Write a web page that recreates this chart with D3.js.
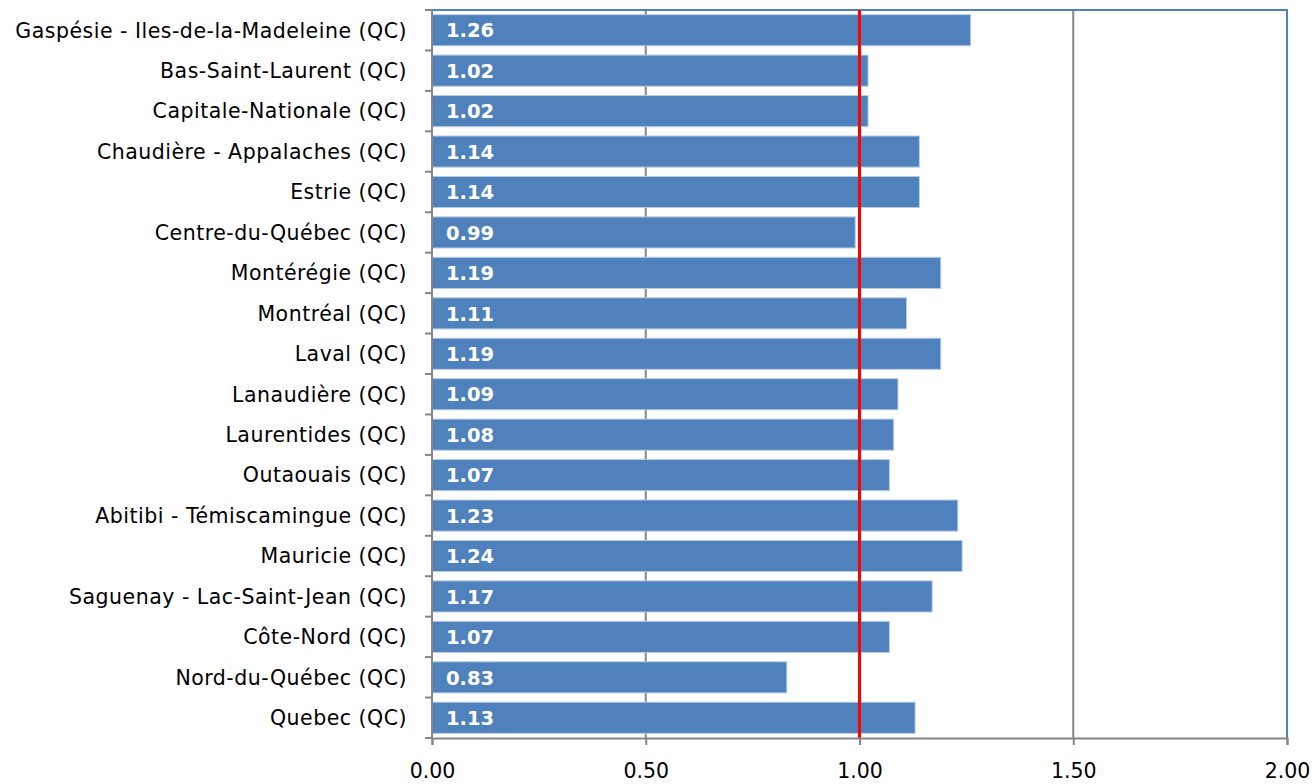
<!DOCTYPE html>
<html>
<head>
<meta charset="utf-8">
<script src="https://cdn.jsdelivr.net/npm/d3@7"></script>
<style>
  body { margin: 0; background: #fff; }
  svg { display: block; }
  text { font-family: "DejaVu Sans", "Liberation Sans", sans-serif; }
</style>
</head>
<body>
<svg id="chart" width="1315" height="784"></svg>
<script>
// Regions, top to bottom
const regions = [
  "Gaspésie - Iles-de-la-Madeleine (QC)",
  "Bas-Saint-Laurent (QC)",
  "Capitale-Nationale (QC)",
  "Chaudière - Appalaches (QC)",
  "Estrie (QC)",
  "Centre-du-Québec (QC)",
  "Montérégie (QC)",
  "Montréal (QC)",
  "Laval (QC)",
  "Lanaudière (QC)",
  "Laurentides (QC)",
  "Outaouais (QC)",
  "Abitibi - Témiscamingue (QC)",
  "Mauricie (QC)",
  "Saguenay - Lac-Saint-Jean (QC)",
  "Côte-Nord (QC)",
  "Nord-du-Québec (QC)",
  "Quebec (QC)"
];
const ratios = [1.26, 1.02, 1.02, 1.14, 1.14, 0.99, 1.19, 1.11, 1.19, 1.09,
                1.08, 1.07, 1.23, 1.24, 1.17, 1.07, 0.83, 1.13];
const xTicks = [0, 0.5, 1, 1.5, 2];
const referenceValue = 1.0;

const svg = d3.select("#chart");
const plotLeft = 432, plotRight = 1287, plotTop = 10, plotBottom = 738;

const x = d3.scaleLinear().domain([0, 2]).range([plotLeft, plotRight]);
const y = d3.scaleBand().domain(regions).range([plotTop, plotBottom]).paddingInner(0.23).paddingOuter(0.115);
const yEdges = d3.scaleBand().domain(regions).range([plotTop, plotBottom]).padding(0);

// vertical gridlines
svg.append("g").selectAll("line").data(xTicks.slice(1, -1)).join("line")
  .attr("x1", d => x(d)).attr("x2", d => x(d))
  .attr("y1", plotTop).attr("y2", plotBottom)
  .attr("stroke", "#868686").attr("stroke-width", 2);

// bars
svg.append("g").selectAll("rect").data(regions).join("rect")
  .attr("x", x(0))
  .attr("y", d => y(d))
  .attr("width", (d, i) => x(ratios[i]) - x(0))
  .attr("height", y.bandwidth())
  .attr("fill", "#4F81BD")
  .attr("stroke", "#B9CDE5").attr("stroke-width", 1);

// plot frame (top and right)
svg.append("path")
  .attr("d", `M${plotLeft},${plotTop}H${plotRight}V${plotBottom}`)
  .attr("fill", "none").attr("stroke", "#4F81BD").attr("stroke-width", 2);

// reference line at 1.00
svg.append("line")
  .attr("x1", x(referenceValue)).attr("x2", x(referenceValue))
  .attr("y1", plotTop).attr("y2", plotBottom)
  .attr("stroke", "#FF0000").attr("stroke-width", 3);

// left axis with ticks at category boundaries
const gy = svg.append("g");
gy.append("line").attr("x1", plotLeft).attr("x2", plotLeft).attr("y1", plotTop).attr("y2", plotBottom)
  .attr("stroke", "#868686").attr("stroke-width", 2);
const bounds = regions.map(r => yEdges(r)).concat([plotBottom]);
gy.selectAll("line.tick").data(bounds).join("line").attr("class", "tick")
  .attr("x1", plotLeft - 7).attr("x2", plotLeft)
  .attr("y1", d => d).attr("y2", d => d)
  .attr("stroke", "#868686").attr("stroke-width", 2);
gy.selectAll("text").data(regions).join("text")
  .attr("x", 407)
  .attr("y", d => yEdges(d) + yEdges.bandwidth() / 2)
  .attr("dy", "0.36em")
  .attr("text-anchor", "end")
  .attr("font-size", 20.5)
  .attr("letter-spacing", 0.5)
  .attr("fill", "#000")
  .text(d => d);

// bottom axis
const xAxis = d3.axisBottom(x).tickValues(xTicks).tickFormat(d3.format(".2f"))
  .tickSize(7).tickPadding(18);
const gx = svg.append("g").attr("transform", `translate(0,${plotBottom})`).call(xAxis);
gx.select(".domain").attr("stroke", "#868686").attr("stroke-width", 2);
gx.selectAll(".tick line").attr("stroke", "#868686").attr("stroke-width", 2);
gx.selectAll(".tick text").attr("font-size", 20.5).attr("fill", "#000")
  .attr("font-family", "'DejaVu Sans', sans-serif");

// value labels inside bars
svg.append("g").selectAll("text").data(regions).join("text")
  .attr("x", x(0) + 14)
  .attr("y", d => y(d) + y.bandwidth() / 2)
  .attr("dy", "0.37em")
  .attr("font-size", 19.5)
  .attr("font-weight", "bold")
  .attr("fill", "#fff")
  .text((d, i) => ratios[i].toFixed(2));
</script>
</body>
</html>
